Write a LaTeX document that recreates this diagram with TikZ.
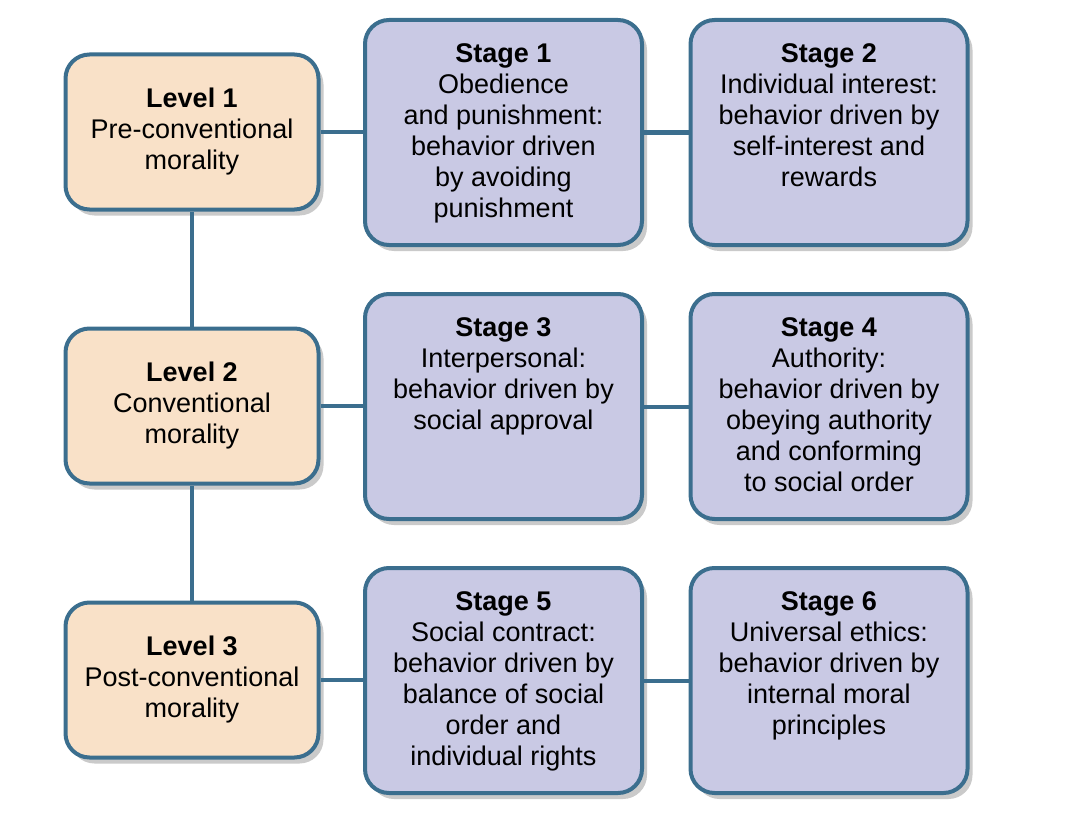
\documentclass[tikz,border=0pt]{standalone}
\usepackage{fontspec}
\setmainfont{Liberation Sans}
\usetikzlibrary{shadows}
\definecolor{edgeblue}{HTML}{3B6E8E}
\definecolor{levelfill}{HTML}{F9E1C8}
\definecolor{stagefill}{HTML}{C9C9E4}
\tikzset{
  box/.style={draw=edgeblue, line width=4pt, rounded corners=24pt, inner sep=0pt,
    align=center, font=\fontsize{27}{31}\selectfont,
    drop shadow={shadow xshift=5pt, shadow yshift=-6pt, opacity=0.35, fill=black!60}},
  level/.style={box, fill=levelfill, minimum width=253pt, minimum height=155pt},
  stage/.style={box, fill=stagefill, minimum width=277pt, minimum height=225pt},
  link/.style={draw=edgeblue, line width=4pt}
}
\newcommand{\stg}[2]{\begin{minipage}[t][225pt][t]{270pt}\centering\vspace{24pt}\textbf{#1}\\#2\end{minipage}}
\begin{document}
\begin{tikzpicture}[x=1pt,y=-1pt]
\useasboundingbox (0,0) rectangle (1078,824);
% levels
\node[level] (l1) at (192,132) {\textbf{Level 1}\\Pre-conventional\\morality};
\node[level] (l2) at (192,406) {\textbf{Level 2}\\Conventional\\morality};
\node[level] (l3) at (192,680) {\textbf{Level 3}\\Post-conventional\\morality};
% connectors (drawn before stages so they sit behind)
\draw[link] (l1) -- (l2);
\draw[link] (l2) -- (l3);
% stages
\node[stage] (s1) at (503.5,132.5) {\stg{Stage 1}{Obedience\\and punishment:\\behavior driven\\by avoiding\\punishment}};
\node[stage] (s2) at (829,132.5) {\stg{Stage 2}{Individual interest:\\behavior driven by\\self-interest and\\rewards}};
\node[stage] (s3) at (503.5,406.5) {\stg{Stage 3}{Interpersonal:\\behavior driven by\\social approval}};
\node[stage] (s4) at (829,406.5) {\stg{Stage 4}{Authority:\\behavior driven by\\obeying authority\\and conforming\\to social order}};
\node[stage] (s5) at (503.5,680.5) {\stg{Stage 5}{Social contract:\\behavior driven by\\balance of social\\order and\\individual rights}};
\node[stage] (s6) at (829,680.5) {\stg{Stage 6}{Universal ethics:\\behavior driven by\\internal moral\\principles}};
\foreach \a/\b in {l1/s1,s1/s2,l2/s3,s3/s4,l3/s5,s5/s6}
  \draw[link] (\a.east) -- (\a.east -| \b.west);
\end{tikzpicture}
\end{document}
